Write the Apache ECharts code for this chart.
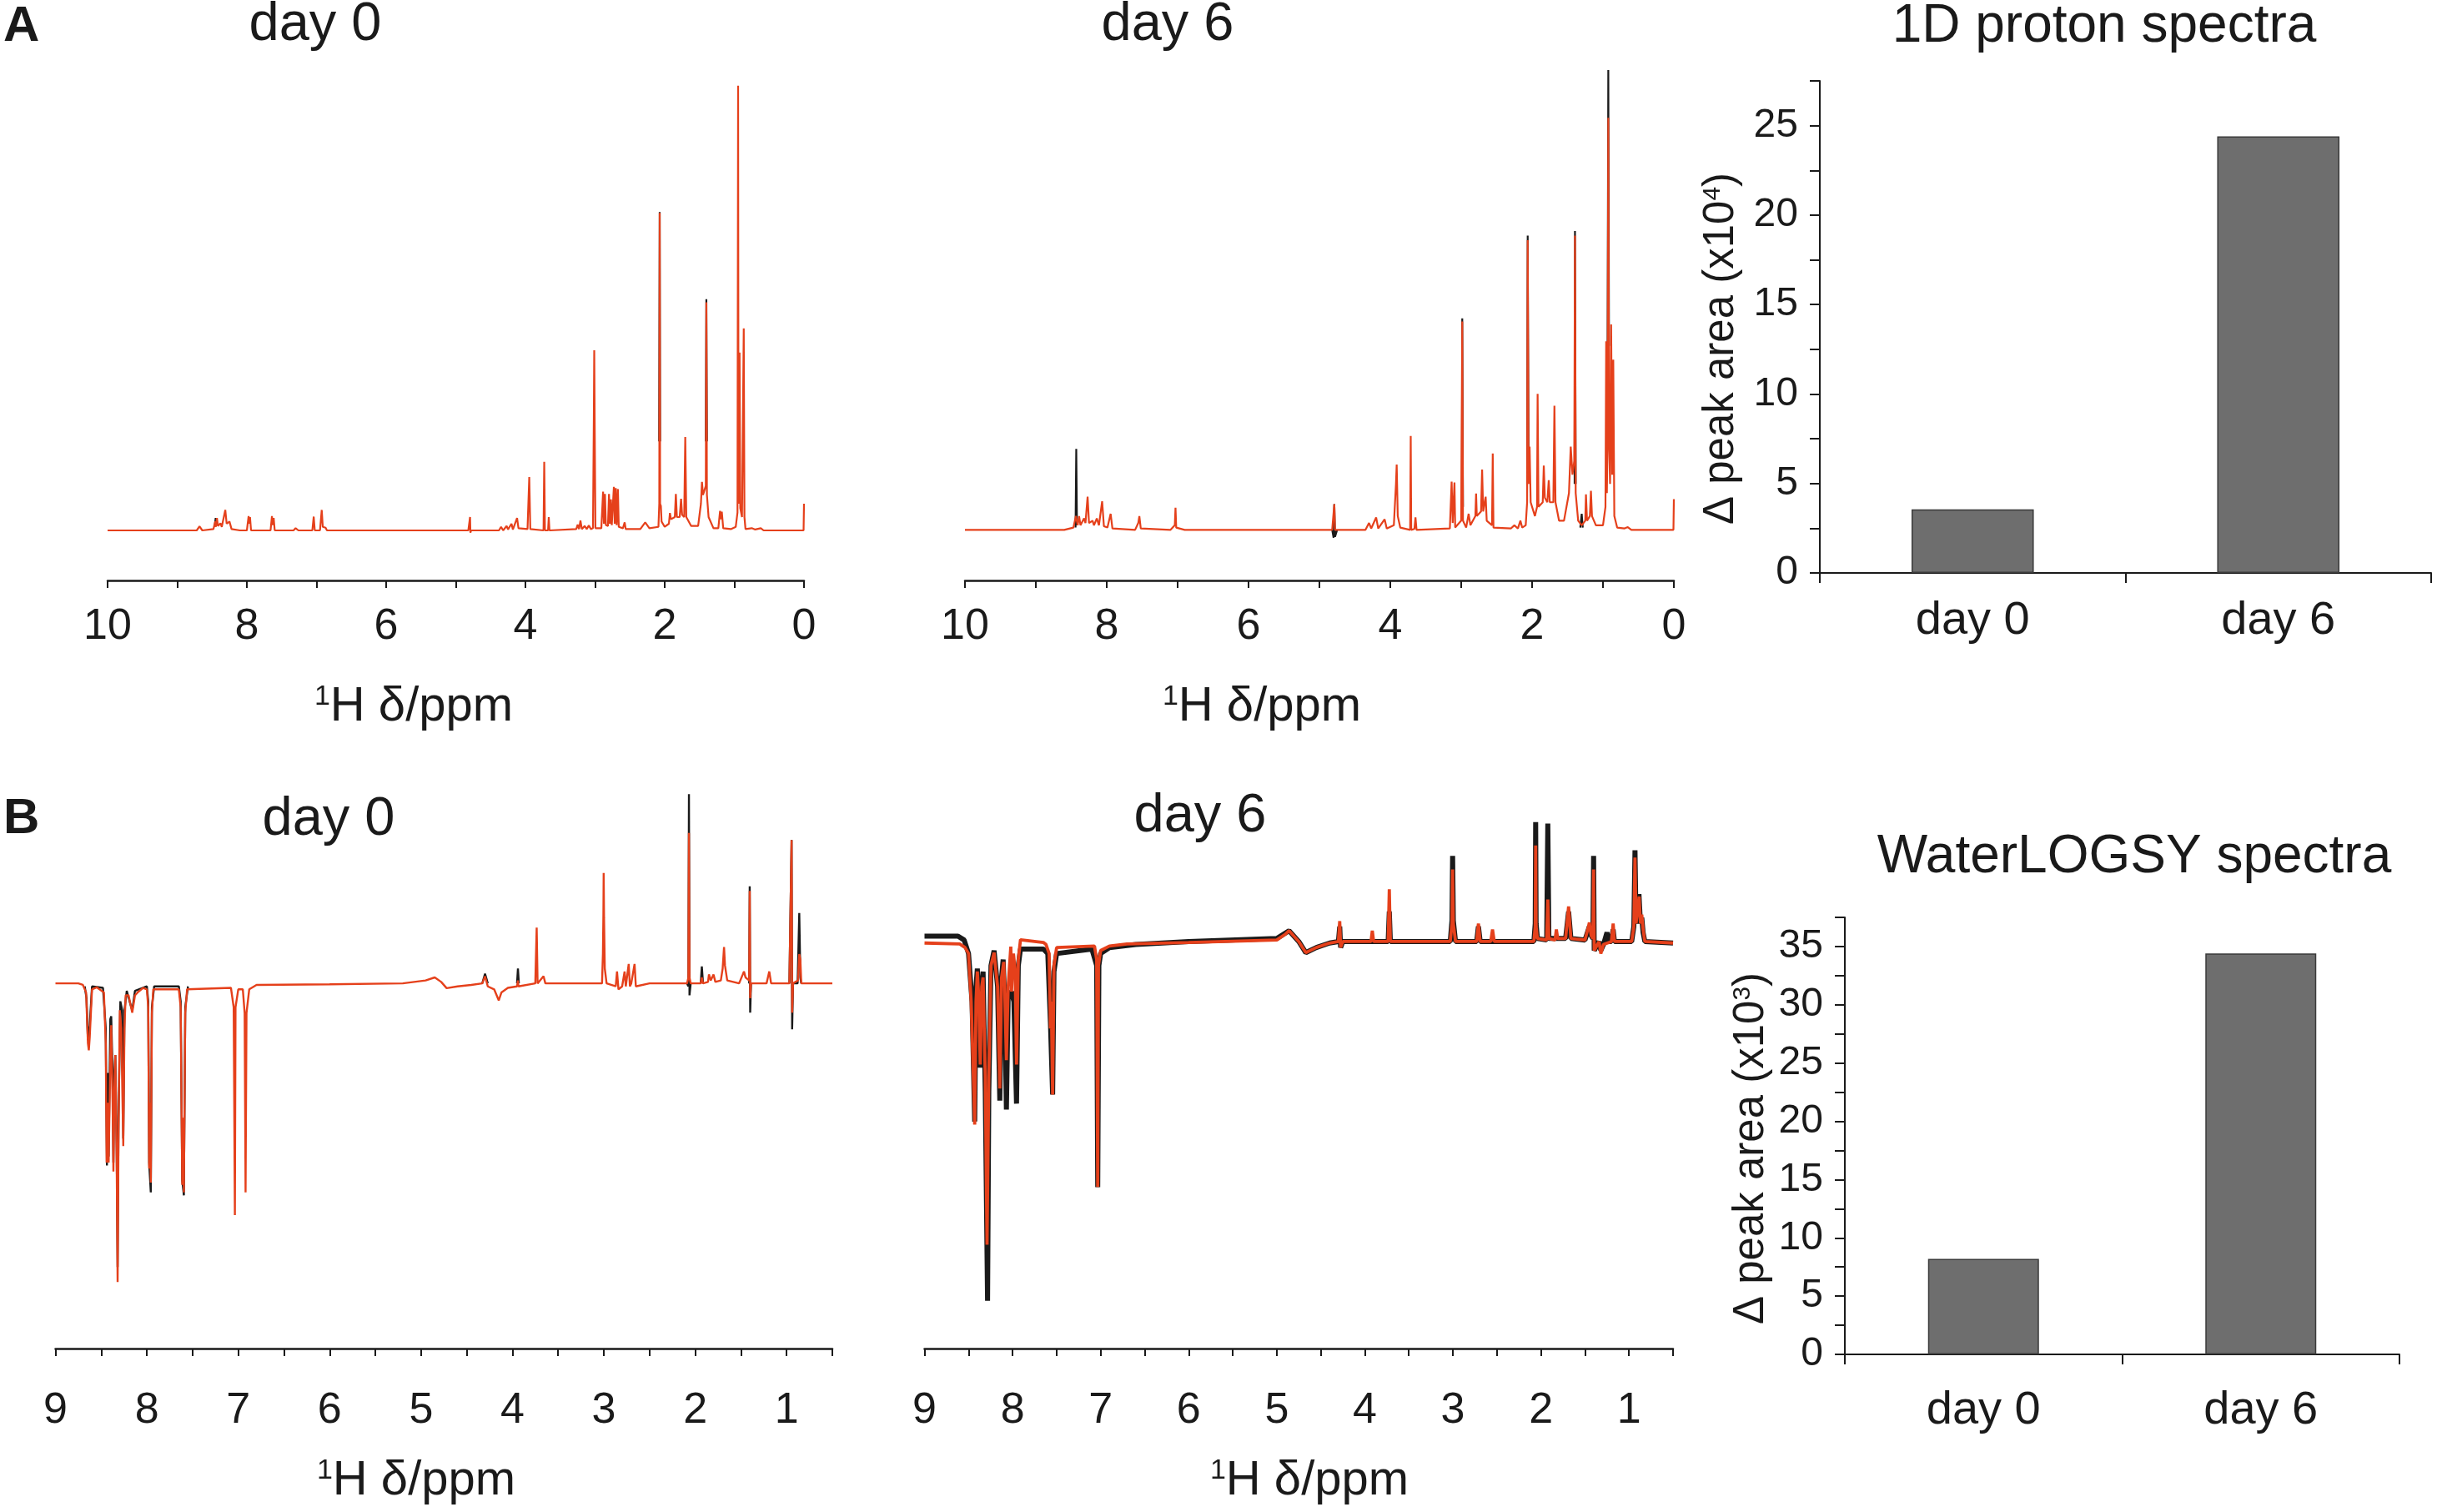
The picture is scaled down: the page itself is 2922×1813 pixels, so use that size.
<!DOCTYPE html>
<html>
<head>
<meta charset="utf-8">
<script src="https://cdn.jsdelivr.net/npm/echarts@6/dist/echarts.min.js"></script>
<style>
  html, body { margin: 0; padding: 0; background: #fff; }
  #chart { width: 2922px; height: 1813px; }
</style>
</head>
<body>
<div id="chart"></div>
<script>
// ---- data ----
// 1D proton spectra, [ppm, intensity], intensity scaled so the tallest peak is ~100
var protonDay0Red = [[10,0],[8.72,0],[8.68,0.9],[8.64,0],[8.48,0.3],[8.455,2.0],[8.445,0.8],[8.43,2.8],[8.415,1.0],[8.38,1.6],[8.36,0.8],[8.31,4.6],[8.29,1.5],[8.25,2.0],[8.22,0.3],[8.1,0],[8.0,0],[7.975,3.2],[7.965,1.5],[7.955,3.0],[7.94,0],[7.66,0],[7.64,3.2],[7.63,1.2],[7.615,2.8],[7.6,0],[7.33,0],[7.3,0.5],[7.26,0],[7.06,0],[7.04,3.1],[7.025,0],[6.95,0],[6.925,4.6],[6.91,0.8],[6.87,0.6],[6.85,0],[4.82,0],[4.795,3.0],[4.79,-0.5],[4.78,0],[4.38,0],[4.35,0.8],[4.32,0],[4.27,1.0],[4.25,0.2],[4.20,1.5],[4.18,0.2],[4.12,2.8],[4.10,0.5],[3.97,0.3],[3.945,12],[3.93,0.3],[3.74,0],[3.73,15.4],[3.72,0],[3.675,0],[3.665,3],[3.655,0],[3.27,0.3],[3.25,1.3],[3.23,0.3],[3.21,2.2],[3.19,0.3],[3.15,1.0],[3.12,0.3],[3.09,1.1],[3.06,0.3],[3.03,0.5],[3.018,25],[3.012,40.5],[3.006,25],[2.995,0.5],[2.91,0.5],[2.885,8.7],[2.873,1.5],[2.858,8.2],[2.845,1.2],[2.815,1],[2.80,8.2],[2.787,1.5],[2.772,7.0],[2.76,1.2],[2.745,1],[2.73,9.8],[2.718,1.5],[2.703,9.5],[2.69,1.2],[2.672,9.3],[2.66,0.8],[2.6,0.5],[2.575,1.8],[2.56,0.3],[2.35,0.3],[2.28,1.8],[2.22,0.5],[2.09,0.8],[2.078,6],[2.072,71.4],[2.066,6],[2.055,5.5],[2.045,2],[2.0,0.8],[1.94,1.5],[1.925,3.9],[1.91,2.5],[1.855,3],[1.84,8.2],[1.825,3],[1.785,3],[1.765,7.1],[1.75,3.5],[1.72,3],[1.705,21],[1.69,3],[1.62,1],[1.52,1],[1.48,6],[1.465,10.9],[1.45,8],[1.41,10],[1.402,51.3],[1.394,8],[1.37,3],[1.3,0.5],[1.23,0.5],[1.205,4.4],[1.19,2.5],[1.18,4.2],[1.16,0.5],[1.05,0.3],[0.98,0.8],[0.955,4],[0.946,100],[0.94,6],[0.925,40],[0.915,5],[0.89,3],[0.865,45.4],[0.855,3],[0.84,0.3],[0.75,0.5],[0.7,0.2],[0.62,0.5],[0.58,0],[0.006,0],[0,6]];
var protonDay0Black = [[8.46,1],[8.448,2.8],[8.44,1],[8.44,'-'],[2.08,20],[2.072,71.6],[2.066,20],[2.066,'-'],[1.41,20],[1.402,52],[1.394,20]];
var protonDay6Red = [[10,0],[8.6,0],[8.47,0.5],[8.435,3],[8.41,1],[8.39,3],[8.37,1],[8.32,2.5],[8.30,1.5],[8.27,7.2],[8.25,1.5],[8.20,2],[8.18,1],[8.14,2.5],[8.11,1],[8.065,6.2],[8.04,0.8],[7.99,0.5],[7.945,3.5],[7.92,0.3],[7.6,0],[7.555,1.5],[7.54,3],[7.52,0.3],[7.1,0],[7.04,1],[7.03,4.8],[7.02,0.5],[6.9,0],[4.82,0],[4.8,0],[4.79,5.6],[4.78,0],[4.35,0],[4.30,1.5],[4.27,0.3],[4.20,2.7],[4.17,0.3],[4.08,2.3],[4.05,0.3],[3.95,1],[3.92,10],[3.91,14.2],[3.895,3],[3.86,0.5],[3.72,0],[3.712,20.4],[3.705,0],[3.66,0.2],[3.645,2.7],[3.63,0],[3.16,0.3],[3.135,10.5],[3.12,1.5],[3.095,10.3],[3.085,0.5],[3.0,2],[2.985,45.3],[2.975,2],[2.93,0.5],[2.895,3.5],[2.87,1],[2.80,3],[2.79,7.9],[2.78,3],[2.72,4],[2.705,13.1],[2.69,4],[2.655,7.2],[2.64,2],[2.565,1],[2.555,16.6],[2.545,0.5],[2.3,0.3],[2.25,1],[2.2,0.3],[2.165,2],[2.14,0.5],[2.09,1],[2.07,6],[2.062,63],[2.05,10],[2.035,18.1],[2.02,6],[1.96,3],[1.93,5],[1.922,29.6],[1.91,5],[1.85,6],[1.835,14],[1.82,7],[1.785,6],[1.765,10.8],[1.75,6],[1.70,6],[1.685,27],[1.67,6],[1.62,2],[1.55,2],[1.48,8],[1.455,18.1],[1.43,12],[1.405,15],[1.395,64],[1.385,8],[1.35,2],[1.30,1],[1.25,2],[1.24,7.7],[1.225,2],[1.185,3],[1.17,8.5],[1.155,3],[1.10,1],[1.0,1],[0.965,5],[0.955,41],[0.945,8],[0.935,20],[0.925,89.6],[0.915,20],[0.90,10],[0.885,44.7],[0.87,12],[0.855,37],[0.84,3],[0.8,0.5],[0.7,0.3],[0.65,0.6],[0.6,0],[0.006,0],[0,6.7]];
var protonDay6Black = [[8.44,0.5],[8.43,17.6],[8.42,1],[8.42,'-'],[4.82,0],[4.80,-1.7],[4.79,5.6],[4.78,-1.5],[4.75,0],[4.75,'-'],[2.99,5],[2.985,46],[2.975,5],[2.975,'-'],[2.07,10],[2.062,64],[2.05,15],[2.05,'-'],[1.40,10],[1.395,65],[1.385,10],[1.385,'-'],[1.32,0.5],[1.30,3.5],[1.285,0.5],[1.285,'-'],[0.935,40],[0.925,100],[0.915,40]];

// WaterLOGSY spectra, [ppm, intensity], deepest negative peak of day 0 = -100
var logsyDay0Red = [[9,0],[8.75,0],[8.70,-0.5],[8.665,-3],[8.645,-20],[8.635,-22.4],[8.625,-18],[8.60,-2],[8.55,-1.3],[8.47,-3],[8.45,-20],[8.44,-60],[8.43,-40],[8.418,-60],[8.40,-25],[8.39,-14],[8.375,-40],[8.366,-63],[8.355,-35],[8.345,-24],[8.33,-60],[8.32,-100],[8.31,-50],[8.296,-9],[8.28,-15],[8.258,-54.5],[8.245,-15],[8.232,-4],[8.20,-4],[8.16,-9.8],[8.13,-4],[8.1,-3],[8.04,-1.5],[8.0,-2],[7.985,-8],[7.975,-62],[7.965,-40],[7.957,-66.7],[7.945,-10],[7.93,-2],[7.65,-2],[7.63,-8],[7.613,-67.5],[7.603,-45],[7.595,-70],[7.58,-10],[7.56,-2],[7.08,-1.5],[7.05,-8],[7.037,-77.6],[7.03,-8],[7.0,-2],[6.95,-2],[6.93,-10],[6.92,-70],[6.91,-10],[6.88,-2],[6.8,-0.5],[6.0,-0.3],[5.2,0],[4.95,1],[4.85,2],[4.78,0.5],[4.72,-1.6],[4.6,-1],[4.45,-0.5],[4.33,0],[4.3,2.4],[4.27,-1],[4.2,-2],[4.15,-5.7],[4.12,-3],[4.05,-1.5],[3.95,-1],[3.94,1],[3.935,-1],[3.75,0],[3.735,18.7],[3.725,0],[3.66,2.4],[3.64,0],[3.02,0],[3.01,10],[3.005,22.8],[3.002,37],[2.998,22],[2.99,5],[2.97,0],[2.87,-1],[2.856,4],[2.84,-2],[2.8,-1],[2.773,4],[2.76,-1],[2.728,6.5],[2.715,-1],[2.70,0],[2.664,6.5],[2.65,-1],[2.5,0],[2.09,0],[2.075,2],[2.069,50.4],[2.063,2],[2.05,0],[1.94,0],[1.928,2],[1.915,0],[1.86,0.5],[1.85,3],[1.83,1],[1.80,3],[1.78,0.5],[1.72,1],[1.70,5],[1.685,12.2],[1.675,6],[1.65,1],[1.52,0],[1.48,3],[1.467,4],[1.45,2],[1.41,1],[1.404,31],[1.399,-5],[1.39,0],[1.22,0],[1.19,4],[1.17,0],[0.97,0],[0.946,48],[0.94,-9.8],[0.93,0],[0.875,1],[0.862,9.8],[0.85,8],[0.84,0],[0.5,0]];
var logsyDay0Black = [[8.68,-1],[8.66,-5],[8.645,-19],[8.625,-14],[8.60,-1],[8.48,-1.5],[8.45,-15],[8.437,-61],[8.425,-30],[8.418,-58],[8.40,-12],[8.39,-11],[8.375,-30],[8.366,-60],[8.355,-30],[8.345,-24],[8.33,-55],[8.32,-95],[8.31,-45],[8.29,-6],[8.27,-9],[8.258,-52],[8.245,-9],[8.22,-2.5],[8.18,-7],[8.16,-9],[8.13,-2.5],[8.0,-1],[7.985,-6],[7.975,-60],[7.957,-70],[7.945,-8],[7.92,-1],[7.65,-1],[7.63,-6],[7.613,-66],[7.595,-71],[7.58,-8],[7.55,-1],[7.55,'-'],[4.33,0],[4.30,3.2],[4.27,0],[4.27,'-'],[3.95,0],[3.94,5],[3.93,0],[3.93,'-'],[2.09,0],[2.075,-1],[2.069,63.4],[2.063,-4],[2.05,0],[2.05,'-'],[1.94,0],[1.928,5.7],[1.915,0],[1.915,'-'],[1.41,0],[1.404,32.5],[1.399,-9.8],[1.39,0],[1.39,'-'],[0.97,0],[0.946,48],[0.94,-15.4],[0.93,0],[0.88,0],[0.862,23.6],[0.85,2],[0.84,0]];
var logsyDay6Red = [[9,-0.5],[8.6,-0.8],[8.54,-2],[8.50,-4],[8.47,-20],[8.43,-61],[8.415,-20],[8.40,-10],[8.385,-18],[8.367,-41],[8.35,-15],[8.335,-12],[8.31,-45],[8.29,-101],[8.27,-45],[8.245,-8],[8.21,-3.7],[8.17,-15],[8.145,-49],[8.125,-12],[8.10,-6.8],[8.09,-15],[8.07,-39.5],[8.05,-15],[8.02,-1.7],[8.012,-16.7],[7.99,-4],[7.97,-10],[7.955,-41],[7.935,-6],[7.91,0.6],[7.65,-0.3],[7.62,-1],[7.585,-4],[7.57,-29],[7.56,-20],[7.545,-51],[7.53,-8],[7.5,-2],[7.07,-1.5],[7.045,-6],[7.033,-81.8],[7.025,-8],[7.0,-3],[6.9,-1.5],[6.7,-0.8],[6.0,-0.3],[5.0,0.5],[4.9,2.5],[4.86,3.6],[4.75,0],[4.67,-3.7],[4.55,-2],[4.4,-0.5],[4.3,0],[4.285,6.8],[4.275,-2],[4.25,0],[3.93,0],[3.915,3.6],[3.9,0],[3.735,0],[3.722,17.4],[3.71,0],[3.03,0],[3.01,6],[3.003,24],[2.995,6],[2.97,0],[2.73,0],[2.71,6],[2.69,0],[2.57,0],[2.55,4],[2.53,0],[2.08,0],[2.065,5],[2.06,32],[2.055,5],[2.04,1],[1.935,0.5],[1.922,14],[1.91,1],[1.84,0.5],[1.825,4],[1.81,1],[1.72,1],[1.686,11.7],[1.66,1],[1.5,0.5],[1.46,5],[1.45,6.3],[1.43,2],[1.41,1],[1.402,24],[1.395,-3],[1.34,0],[1.32,-4],[1.29,-1],[1.2,0],[1.18,6],[1.165,0],[0.97,0],[0.945,5],[0.932,28],[0.92,6],[0.895,12],[0.885,15],[0.87,6],[0.855,9],[0.84,4],[0.82,0],[0.5,-0.5]];
var logsyDay6Black = [[9,1.8],[8.62,1.8],[8.55,0.5],[8.5,-4],[8.46,-20],[8.43,-60],[8.415,-15],[8.40,-9],[8.385,-20],[8.367,-42],[8.35,-15],[8.335,-10],[8.31,-50],[8.284,-119.7],[8.27,-50],[8.245,-8],[8.21,-3],[8.17,-15],[8.145,-53],[8.125,-12],[8.107,-6],[8.09,-20],[8.07,-56],[8.05,-18],[8.012,-16.7],[7.985,-20],[7.955,-54],[7.935,-8],[7.91,-2.5],[7.65,-2.5],[7.6,-4],[7.57,-27],[7.545,-51],[7.53,-10],[7.50,-4],[7.1,-2.5],[7.045,-8],[7.033,-81.8],[7.02,-8],[7.0,-4],[6.9,-2],[6.6,-1],[6.0,0],[5.0,1],[4.86,3.6],[4.75,0],[4.67,-3.7],[4.55,-2],[4.4,-0.5],[4.3,0],[4.285,5],[4.275,-2],[4.25,0],[3.735,0],[3.722,10],[3.71,0],[3.03,0],[3.01,7],[3.003,28.5],[2.995,7],[2.97,0],[2.73,0],[2.71,5],[2.69,0],[2.08,0],[2.065,6],[2.06,39.8],[2.055,6],[2.04,1],[1.935,0.5],[1.922,39.3],[1.91,1],[1.72,1],[1.686,10],[1.66,1],[1.5,0.5],[1.45,5],[1.43,2],[1.41,1],[1.402,28.5],[1.395,-3],[1.34,0],[1.32,-3],[1.29,-1],[1.25,3],[1.23,0],[1.2,0],[1.18,4],[1.165,0],[0.97,0],[0.945,5],[0.932,30.4],[0.92,6],[0.895,12],[0.887,15.8],[0.87,6],[0.855,8],[0.84,3],[0.82,0],[0.5,-0.5]];

// bar charts
var barCategories = ['day 0', 'day 6'];
var protonPeakArea = [3.55, 24.4];     // x10^4
var logsyPeakArea = [8.2, 34.4];       // x10^3

// ---- styling ----
var ink = '#1a1a1a';
var red = '#e5401b';
var font = "'Liberation Sans', Arial, Helvetica, sans-serif";

var chart = echarts.init(document.getElementById('chart'));

function ppmAxis(gridIndex, min, max, step, labelEvery, margin) {
    return {
        type: 'value', gridIndex: gridIndex, min: min, max: max, interval: step, inverse: true,
        axisLine: { show: true, onZero: false, lineStyle: { color: ink, width: 2.5 } },
        axisTick: { show: true, length: 9, lineStyle: { color: ink, width: 2 } },
        splitLine: { show: false },
        axisLabel: {
            show: true, margin: margin, fontSize: 52, color: ink, fontFamily: font,
            showMinLabel: true, showMaxLabel: true,
            formatter: function (v) {
                var r = v / labelEvery;
                return Math.abs(r - Math.round(r)) < 1e-6 ? String(Math.round(v)) : '';
            }
        }
    };
}

function hiddenY(gridIndex, min, max) {
    return { type: 'value', gridIndex: gridIndex, min: min, max: max, show: false, splitLine: { show: false } };
}

function catAxis(gridIndex, margin) {
    return {
        type: 'category', gridIndex: gridIndex, data: barCategories,
        axisLine: { show: true, onZero: false, lineStyle: { color: ink, width: 2 } },
        axisTick: { show: true, alignWithLabel: false, length: 12, lineStyle: { color: ink, width: 2 } },
        axisLabel: { margin: margin, fontSize: 56, color: ink, fontFamily: font }
    };
}

function areaAxis(gridIndex, max, margin) {
    return {
        type: 'value', gridIndex: gridIndex, min: 0, max: max, interval: 2.5,
        axisLine: { show: true, onZero: false, lineStyle: { color: ink, width: 2 } },
        axisTick: { show: true, length: 12, lineStyle: { color: ink, width: 2 } },
        splitLine: { show: false },
        axisLabel: {
            margin: margin, fontSize: 48, color: ink, fontFamily: font,
            formatter: function (v) {
                var r = v / 5;
                return Math.abs(r - Math.round(r)) < 1e-6 ? String(Math.round(v)) : '';
            }
        }
    };
}

function trace(i, data, color, width, z) {
    return {
        type: 'line', xAxisIndex: i, yAxisIndex: i, data: data,
        symbol: 'none', smooth: false, silent: true, z: z,
        lineStyle: { color: color, width: width }
    };
}

function bars(i, data) {
    return {
        type: 'bar', xAxisIndex: i, yAxisIndex: i, data: data, barWidth: '40%', silent: true,
        itemStyle: { color: '#6e6e6e', borderColor: '#3a3a3a', borderWidth: 1.5 }
    };
}

function txt(x, y, text, size, extra) {
    var style = {
        text: text, x: 0, y: 0, fill: ink, fontSize: size, fontFamily: font,
        align: 'center', verticalAlign: 'middle', textAlign: 'center', textVerticalAlign: 'middle'
    };
    var el = { type: 'text', x: x, y: y, silent: true, style: style };
    if (extra) {
        for (var k in extra.style || {}) style[k] = extra.style[k];
        if (extra.rotation) el.rotation = extra.rotation;
    }
    return el;
}

var supRich = function (size) {
    return {
        n: { fontSize: size, fontFamily: font, fill: ink, color: ink },
        s: { fontSize: Math.round(size * 0.58), fontFamily: font, fill: ink, color: ink, verticalAlign: 'top' }
    };
};

var ppmName = '{s|1}{n|H δ/ppm}';

var option = {
    animation: false,
    backgroundColor: '#fff',
    grid: [
        { left: 129, top: 100, width: 835, height: 596, containLabel: false, outerBoundsMode: 'none' },
        { left: 1157, top: 84, width: 850, height: 612, containLabel: false, outerBoundsMode: 'none' },
        { left: 66.5, top: 940, width: 931.5, height: 677, containLabel: false, outerBoundsMode: 'none' },
        { left: 1108.5, top: 940, width: 897.5, height: 677, containLabel: false, outerBoundsMode: 'none' },
        { left: 2182, top: 97, width: 733, height: 590, containLabel: false, outerBoundsMode: 'none' },
        { left: 2212, top: 1100, width: 665, height: 524, containLabel: false, outerBoundsMode: 'none' }
    ],
    xAxis: [
        ppmAxis(0, 0, 10, 1, 2, 30),
        ppmAxis(1, 0, 10, 1, 2, 30),
        ppmAxis(2, 0.5, 9, 0.5, 1, 49),
        ppmAxis(3, 0.5, 9, 0.5, 1, 49),
        catAxis(4, 30),
        catAxis(5, 40)
    ],
    yAxis: [
        hiddenY(0, -11.25, 100.5),
        hiddenY(1, -11.0, 100),
        hiddenY(2, -122.3, 66.8),
        hiddenY(3, -135.6, 52.5),
        areaAxis(4, 27.5, 26),
        areaAxis(5, 37.5, 26)
    ],
    series: [
        trace(0, protonDay0Black, ink, 2.2, 2),
        trace(0, protonDay0Red, red, 2.2, 3),
        trace(1, protonDay6Black, ink, 2.2, 2),
        trace(1, protonDay6Red, red, 2.2, 3),
        trace(2, logsyDay0Black, ink, 2.4, 2),
        trace(2, logsyDay0Red, red, 2.4, 3),
        trace(3, logsyDay6Black, ink, 6, 2),
        trace(3, logsyDay6Red, red, 3.8, 3),
        bars(4, protonPeakArea),
        bars(5, logsyPeakArea)
    ],
    graphic: [
        txt(4, 32, 'A', 60, { style: { fontWeight: 'bold', align: 'left', textAlign: 'left' } }),
        txt(4, 982, 'B', 60, { style: { fontWeight: 'bold', align: 'left', textAlign: 'left' } }),
        txt(378, 30, 'day 0', 65),
        txt(1400, 30, 'day 6', 65),
        txt(2523, 32, '1D proton spectra', 64),
        txt(394, 983, 'day 0', 65),
        txt(1439, 979, 'day 6', 65),
        txt(2559, 1028, 'WaterLOGSY spectra', 64),
        txt(496, 848, ppmName, 58, { style: { rich: supRich(58) } }),
        txt(1513, 848, ppmName, 58, { style: { rich: supRich(58) } }),
        txt(499, 1776, ppmName, 58, { style: { rich: supRich(58) } }),
        txt(1570, 1776, ppmName, 58, { style: { rich: supRich(58) } }),
        txt(2064, 418, '{n|Δ peak area (x10}{s|4}{n|)}', 51, { rotation: Math.PI / 2, style: { rich: supRich(51) } }),
        txt(2100, 1377, '{n|Δ peak area (x10}{s|3}{n|)}', 51, { rotation: Math.PI / 2, style: { rich: supRich(51) } })
    ]
};

chart.setOption(option);
</script>
</body>
</html>
